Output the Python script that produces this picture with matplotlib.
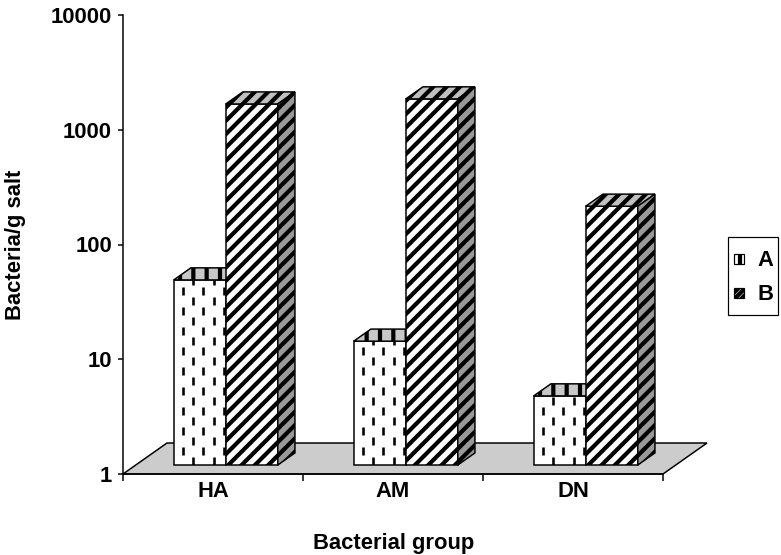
import matplotlib
matplotlib.use('Agg')
import matplotlib.pyplot as plt
import numpy as np
from matplotlib.patches import Polygon, Patch, Rectangle
from matplotlib.transforms import ScaledTranslation
from matplotlib.lines import Line2D
from matplotlib.ticker import NullLocator
from matplotlib.legend_handler import HandlerPatch

# ---- data ----
categories = ['HA', 'AM', 'DN']
series_names = ['A', 'B']
values_A = [41, 12, 4]
values_B = [1400, 1550, 180]
y_ticks = [1, 10, 100, 1000, 10000]
y_tick_labels = ['1', '10', '100', '1000', '10000']
x_label = 'Bacterial group'
y_label = 'Bacteria/g salt'

W, H, DPI = 781, 555, 80
P = 72.0 / DPI          # points per pixel
FS = 22 * P             # font size (22 px)

plt.rcParams['font.family'] = ['Liberation Sans', 'DejaVu Sans']
plt.rcParams['font.weight'] = 'bold'
plt.rcParams['hatch.linewidth'] = 4.2 * P
plt.rcParams['lines.scale_dashes'] = False

fig = plt.figure(figsize=(W / DPI, H / DPI), dpi=DPI)
ax = fig.add_axes([123 / W, 1 - 474 / H, (663 - 123) / W, (474 - 15) / H])
ax.set_yscale('log')
ax.set_ylim(1, 10000)
ax.set_xlim(0, len(categories))

FLOOR = np.array([44.0, 31.0])   # oblique depth vector (display px)
F0, F1 = 0.29, 0.68               # bar front / back depth fractions
bar_w = 0.289
EDGE_LW = 1.5 * P


def disp(x, y, depth):
    return ax.transData.transform((x, y)) + depth * FLOOR


def poly(pts, **kw):
    p = Polygon(ax.transData.inverted().transform(np.asarray(pts)), closed=True,
                transform=ax.transData, clip_on=False, **kw)
    ax.add_patch(p)
    return p


# floor
n = len(categories)
poly([disp(0, 1, 0), disp(n, 1, 0), disp(n, 1, 1), disp(0, 1, 1)],
     facecolor='#cccccc', edgecolor='black', lw=EDGE_LW, zorder=1)

front_trans = ax.transData + ScaledTranslation(F0 * FLOOR[0] / DPI, F0 * FLOOR[1] / DPI,
                                               fig.dpi_scale_trans)
x = np.arange(n) + 0.5
vA = np.array(values_A, dtype=float)
vB = np.array(values_B, dtype=float)

barsA = ax.bar(x - bar_w / 2, vA - 1, width=bar_w, bottom=1, facecolor='white',
               edgecolor='black', linewidth=EDGE_LW, zorder=3)
barsB = ax.bar(x + bar_w / 2, vB - 1, width=bar_w, bottom=1, facecolor='white',
               edgecolor='black', linewidth=EDGE_LW, hatch='//', zorder=5)
for p in list(barsA) + list(barsB):
    p.set_transform(front_trans)
    p.set_clip_on(False)

px = 1 / 180.0  # data units per pixel horizontally
for i, p in enumerate(barsA):
    x0 = x[i] - bar_w
    for k in range(5):
        xx = x0 + (9 + k * 10.3) * px
        off = 0 if k % 2 else 10 * P
        ln = Line2D([xx, xx], [1, vA[i]], transform=front_trans, color='black',
                    lw=2.6 * P, linestyle=(off, (8 * P, 12 * P)), zorder=4)
        ln.set_dash_capstyle('butt')
        ax.add_line(ln)
        ln.set_clip_path(p)
    x1 = x[i]
    poly([disp(x0, vA[i], F0), disp(x1, vA[i], F0), disp(x1, vA[i], F1), disp(x0, vA[i], F1)],
         facecolor='#c8c8c8', edgecolor='black', lw=EDGE_LW, hatch='|', zorder=4.5)

for i, p in enumerate(barsB):
    x0 = x[i]
    x1 = x[i] + bar_w
    poly([disp(x0, vB[i], F0), disp(x1, vB[i], F0), disp(x1, vB[i], F1), disp(x0, vB[i], F1)],
         facecolor='#c0c0c0', edgecolor='black', lw=EDGE_LW, hatch='//', zorder=6)
    poly([disp(x1, 1, F0), disp(x1, vB[i], F0), disp(x1, vB[i], F1), disp(x1, 1, F1)],
         facecolor='#999999', edgecolor='black', lw=EDGE_LW, hatch='//', zorder=6)

# axes styling
for s in ['top', 'right']:
    ax.spines[s].set_visible(False)
for s in ['left', 'bottom']:
    ax.spines[s].set_linewidth(1.5 * P)
    ax.spines[s].set_zorder(10)
ax.set_yticks(y_ticks)
ax.set_yticklabels(y_tick_labels)
ax.yaxis.set_minor_locator(NullLocator())
ax.set_xticks(np.arange(n + 1))
ax.set_xticklabels([])
ax.set_xticks(x, minor=True)
ax.set_xticklabels(categories, minor=True)
ax.tick_params(axis='y', which='major', length=5 * P, width=1.5 * P, labelsize=FS, pad=6 * P)
ax.tick_params(axis='x', which='major', length=7 * P, width=1.5 * P)
ax.tick_params(axis='x', which='minor', length=0, labelsize=FS, pad=7 * P)
ax.patch.set_visible(False)

fig.text(394 / W, 1 - 543 / H, x_label, fontsize=FS, fontweight='bold',
         ha='center', va='center')
fig.text(16 / W, 1 - 245 / H, y_label, fontsize=FS, fontweight='bold',
         ha='center', va='center', rotation=90)


def small_square(legend, orig_handle, xdescent, ydescent, width, height, fontsize):
    s = 10 * P
    return Rectangle((-xdescent + (width - s) / 2, -ydescent + (height - s) / 2), s, s)


handles = [Patch(facecolor='white', edgecolor='black', hatch='|', lw=1.2 * P),
           Patch(facecolor='white', edgecolor='black', hatch='////', lw=1.2 * P)]
leg = fig.legend(handles, series_names, loc='upper left',
                 bbox_to_anchor=(728 / W, 1 - 237 / H), frameon=True, fancybox=False,
                 edgecolor='black', framealpha=1, fontsize=FS, handlelength=0.5,
                 handleheight=1.95, labelspacing=0.05, borderpad=0.23, handletextpad=0.6,
                 borderaxespad=0,
                 handler_map={Patch: HandlerPatch(patch_func=small_square)})
leg.get_frame().set_linewidth(1.2 * P)

fig.savefig('out.png', dpi=DPI)
